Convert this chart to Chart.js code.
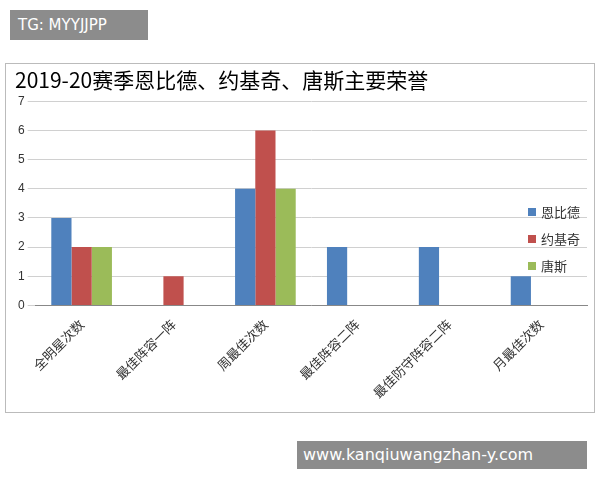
<!DOCTYPE html>
<html>
<head>
<meta charset="utf-8">
<script src="https://cdn.jsdelivr.net/npm/chart.js@4/dist/chart.umd.min.js"></script>
<style>
  body { margin: 0; width: 600px; height: 480px; background: #fff; position: relative; font-family: "Noto Sans CJK SC", sans-serif; overflow: hidden; }
  #frame { position: absolute; left: 5px; top: 63px; width: 588px; height: 348px; border: 1px solid #bbb; }
  #wrap { position: absolute; left: 5px; top: 63px; width: 590px; height: 350px; }
  .tag { position: absolute; background: #8c8c8c; color: #fff; font-family: "DejaVu Sans", sans-serif; }
  #tg { left: 10px; top: 10px; width: 138px; height: 30px; line-height: 30px; font-size: 15px; padding-left: 8px; box-sizing: border-box; }
  #site { left: 297px; top: 441px; width: 290px; height: 28px; line-height: 28px; font-size: 16px; padding-left: 6px; box-sizing: border-box; }
  #legend { position: absolute; left: 528px; top: 198px; font-size: 13px; color: #333; }
  #legend div { height: 27px; display: flex; align-items: center; }
  #legend span { display: inline-block; width: 8px; height: 8px; margin-right: 5px; }
</style>
</head>
<body>
<div class="tag" id="tg">TG: MYYJJPP</div>
<div id="frame"></div>
<div id="wrap"><canvas id="c" width="590" height="350"></canvas></div>
<div id="legend"></div>
<div class="tag" id="site">www.kanqiuwangzhan-y.com</div>
<script>
const categories = ['全明星次数', '最佳阵容一阵', '周最佳次数', '最佳阵容二阵', '最佳防守阵容二阵', '月最佳次数'];
const seriesNames = ['恩比德', '约基奇', '唐斯'];
const embiid = [3, 0, 4, 2, 2, 1];
const jokic = [2, 1, 6, 0, 0, 0];
const towns = [2, 0, 4, 0, 0, 0];
const colors = ['#4F81BD', '#C0504D', '#9BBB59'];
const yTicks = [0, 1, 2, 3, 4, 5, 6, 7];

const values = [embiid, jokic, towns];
document.getElementById('legend').innerHTML = seriesNames.map((n, i) =>
    '<div><span style="background:' + colors[i] + '"></span>' + n + '</div>').join('');

new Chart(document.getElementById('c'), {
    type: 'bar',
    data: {
        labels: categories,
        datasets: seriesNames.map((n, i) => ({
            label: n,
            data: values[i],
            backgroundColor: colors[i],
            categoryPercentage: 0.66,
            barPercentage: 1
        }))
    },
    options: {
        responsive: false,
        animation: false,
        layout: { padding: { left: 10, right: 8, top: 0, bottom: 9 } },
        plugins: {
            legend: { display: false },
            tooltip: { enabled: false },
            title: {
                display: true,
                text: '2019-20赛季恩比德、约基奇、唐斯主要荣誉',
                color: '#000',
                align: 'start',
                font: { size: 21, family: '"Noto Sans CJK SC"', weight: 'normal' },
                padding: { top: 4, bottom: 9 }
            }
        },
        scales: {
            x: {
                grid: { display: false },
                border: { color: '#888' },
                ticks: {
                    color: '#333',
                    minRotation: 45,
                    maxRotation: 45,
                    font: { size: 13, family: '"Noto Sans CJK SC"' }
                }
            },
            y: {
                min: 0,
                max: 7,
                afterBuildTicks: axis => { axis.ticks = yTicks.map(v => ({ value: v })); },
                grid: { color: '#d0d0d0' },
                border: { display: false },
                ticks: { color: '#333', font: { size: 12 } }
            }
        }
    }
});
</script>
</body>
</html>
